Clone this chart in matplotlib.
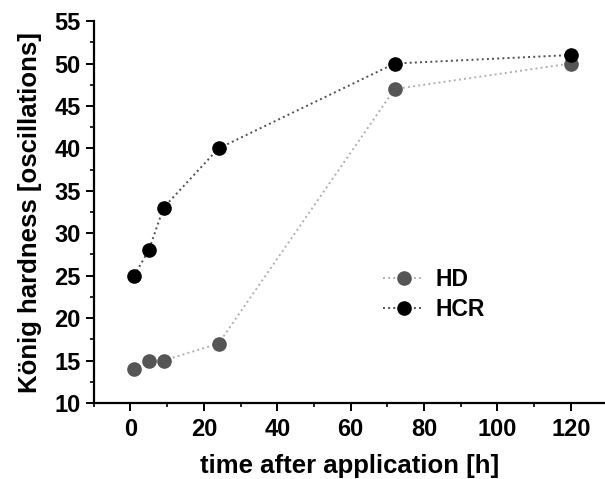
import matplotlib.pyplot as plt
from matplotlib.ticker import MultipleLocator

plt.rcParams['font.family'] = ['Liberation Sans', 'DejaVu Sans']
plt.rcParams['font.weight'] = 'bold'

# Daten
zeit = [1, 5, 9, 24, 72, 120]
hd = [14, 15, 15, 17, 47, 50]
hcr = [25, 28, 33, 40, 50, 51]

fig = plt.figure(figsize=(6.05, 4.79), dpi=100)
ax = fig.add_axes([0.155, 0.1587, 0.845, 0.7973])

ax.plot(zeit, hd, linestyle=':', color='#b0b0b0', linewidth=1.4,
        marker='o', markersize=9.5, markerfacecolor='#555555',
        markeredgecolor='#555555', label='HD')
ax.plot(zeit, hcr, linestyle=':', color='#505050', linewidth=1.4,
        marker='o', markersize=9.5, markerfacecolor='black',
        markeredgecolor='black', label='HCR')

ax.set_xlim(-10, 129.3)
ax.set_ylim(10, 55)
ax.xaxis.set_major_locator(MultipleLocator(20))
ax.xaxis.set_minor_locator(MultipleLocator(10))
ax.yaxis.set_major_locator(MultipleLocator(5))
ax.yaxis.set_minor_locator(MultipleLocator(2.5))

# nur linke und untere Achse
ax.spines['top'].set_visible(False)
ax.spines['right'].set_visible(False)
ax.spines['left'].set_linewidth(1.6)
ax.spines['bottom'].set_linewidth(1.6)
ax.tick_params(which='major', direction='out', length=6, width=1.4, labelsize=17)
ax.tick_params(axis='x', which='major', pad=5)
ax.tick_params(axis='y', which='major', pad=3.5)
ax.tick_params(which='minor', direction='out', length=3, width=1.2)

ax.set_xlabel('time after application [h]', fontsize=18.5, fontweight='bold', labelpad=9)
ax.set_ylabel('König hardness [oscillations]', fontsize=18.5, fontweight='bold', labelpad=9)

ax.legend(loc='center left', bbox_to_anchor=(0.633, 0.385), bbox_transform=fig.transFigure,
          frameon=False, fontsize=16.5, borderpad=0, borderaxespad=0,
          handlelength=1.8, handletextpad=0.5, labelspacing=0.3)

fig.savefig('out.png', dpi=100)
